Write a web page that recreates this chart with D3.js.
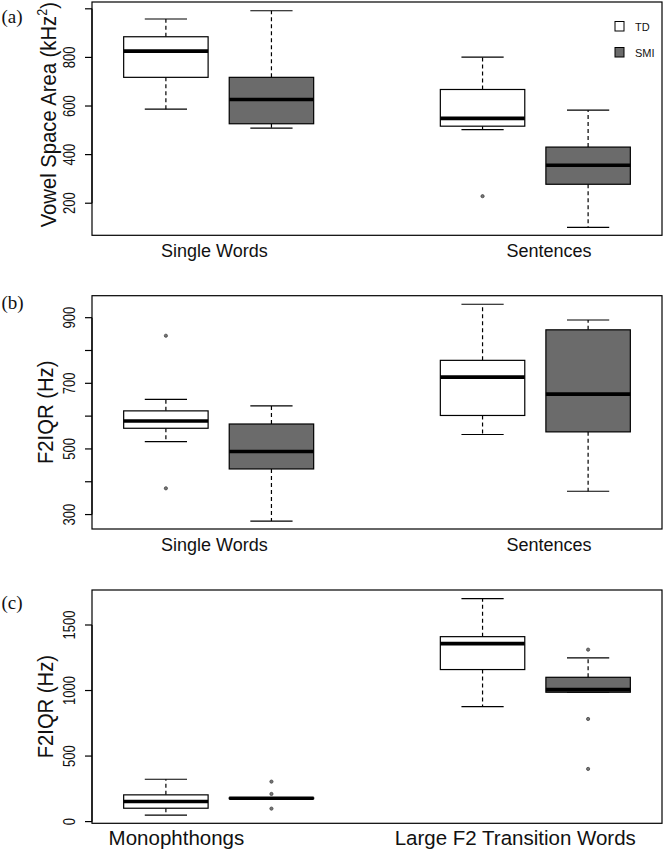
<!DOCTYPE html>
<html>
<head>
<meta charset="utf-8">
<script src="https://cdn.jsdelivr.net/npm/d3@7"></script>
<style>
  html, body { margin: 0; padding: 0; background: #fff; }
  svg { display: block; }
</style>
</head>
<body>
<svg id="chart" width="664" height="850"></svg>
<script>
// ---------------- DATA ----------------
const groups = ["TD", "SMI"];
const groupPositions = [1, 2, 4, 5];      // TD, SMI, TD, SMI

const catsA = ["Single Words", "Sentences"];
const catsB = ["Single Words", "Sentences"];
const catsC = ["Monophthongs", "Large F2 Transition Words"];

// each box: [lower whisker, Q1, median, Q3, upper whisker]
const statsA = [
  [587, 718, 826, 885, 958],
  [509, 527, 627, 718, 992],
  [503, 517, 549, 668, 801],
  [101, 278, 356, 431, 583]
];
const outliersA = [[], [], [229], []];

const statsB = [
  [522, 563, 585, 616, 651],
  [280, 439, 492, 576, 631],
  [544, 602, 719, 770, 941],
  [371, 552, 667, 863, 893]
];
const outliersB = [[845, 380], [], [], []];

const statsC = [
  [49, 102, 153, 204, 323],
  [175, 175, 178, 181, 181],
  [877, 1160, 1358, 1411, 1701],
  [987, 987, 1007, 1101, 1249]
];
const outliersC = [[], [305, 211, 99], [], [1312, 783, 402]];

const ticksA = [200, 400, 600, 800, 1000];
const tickLabelsA = ["200", "400", "600", "800", ""];
const ticksB = [300, 400, 500, 600, 700, 800, 900];
const tickLabelsB = ["300", "", "500", "", "700", "", "900"];
const ticksC = [0, 500, 1000, 1500];
const tickLabelsC = ["0", "500", "1000", "1500"];

const domainA = [68, 1028];
const domainB = [256, 967];
const domainC = [-13, 1767];

const titleA = "Vowel Space Area (kHz";
const titleB = "F2IQR (Hz)";
const titleC = "F2IQR (Hz)";
const panelTags = ["(a)", "(b)", "(c)"];

// ---------------- LAYOUT ----------------
const svg = d3.select("#chart");
const plotLeft = 92, plotRight = 662, plotH = 233.3;
const sans = "'Liberation Sans', Arial, Helvetica, sans-serif";
const serif = "'Liberation Serif', 'Times New Roman', serif";
const grayFill = "#6b6b6b";
const fills = ["#ffffff", grayFill, "#ffffff", grayFill];

const x = d3.scaleLinear().domain([0.3, 5.7]).range([plotLeft, plotRight]);
const boxW = x(1.4) - x(0.6);
const capW = boxW / 2;

const panels = [
  { tag: panelTags[0], top: 2, domain: domainA, ticks: ticksA, tickLabels: tickLabelsA,
    title: titleA, sup: true, titleBase: 56, titleShift: -4, cats: catsA, stats: statsA, outliers: outliersA,
    labelAt: [1.46, 4.63], catSize: 18, tagBase: 23, legend: true },
  { tag: panelTags[1], top: 295.7, domain: domainB, ticks: ticksB, tickLabels: tickLabelsB,
    title: titleB, sup: false, titleBase: 53, titleShift: 0, cats: catsB, stats: statsB, outliers: outliersB,
    labelAt: [1.46, 4.63], catSize: 18, tagBase: 309, legend: false },
  { tag: panelTags[2], top: 590, domain: domainC, ticks: ticksC, tickLabels: tickLabelsC,
    title: titleC, sup: false, titleBase: 53, titleShift: 0, cats: catsC, stats: statsC, outliers: outliersC,
    labelAt: [1.10, 4.31], catSize: 20.5, tagBase: 609, legend: false }
];

panels.forEach(p => {
  const y = d3.scaleLinear().domain(p.domain).range([p.top + plotH, p.top]);
  const g = svg.append("g");

  // boxes
  p.stats.forEach((s, i) => {
    const cx = x(groupPositions[i]);
    const [lo, q1, med, q3, hi] = s;
    const bg = g.append("g");
    // whiskers (dashed)
    bg.append("line").attr("x1", cx).attr("x2", cx).attr("y1", y(q3)).attr("y2", y(hi))
      .attr("stroke", "#000").attr("stroke-width", 1.2).attr("stroke-dasharray", "4,3");
    bg.append("line").attr("x1", cx).attr("x2", cx).attr("y1", y(q1)).attr("y2", y(lo))
      .attr("stroke", "#000").attr("stroke-width", 1.2).attr("stroke-dasharray", "4,3");
    // caps
    [lo, hi].forEach(v => {
      bg.append("line").attr("x1", cx - capW / 2).attr("x2", cx + capW / 2)
        .attr("y1", y(v)).attr("y2", y(v)).attr("stroke", "#000").attr("stroke-width", 1.2);
    });
    // box
    bg.append("rect").attr("x", cx - boxW / 2).attr("width", boxW)
      .attr("y", y(q3)).attr("height", Math.max(0.5, y(q1) - y(q3)))
      .attr("fill", fills[i]).attr("stroke", "#000").attr("stroke-width", 1.2);
    // median
    bg.append("line").attr("x1", cx - boxW / 2).attr("x2", cx + boxW / 2)
      .attr("y1", y(med)).attr("y2", y(med)).attr("stroke", "#000").attr("stroke-width", 3.6);
    // outliers
    p.outliers[i].forEach(v => {
      bg.append("circle").attr("cx", cx).attr("cy", y(v)).attr("r", 1.6)
        .attr("fill", "#777").attr("stroke", "#444").attr("stroke-width", 0.8);
    });
  });

  // plot frame
  g.append("rect").attr("x", plotLeft).attr("y", p.top)
    .attr("width", plotRight - plotLeft).attr("height", plotH)
    .attr("fill", "none").attr("stroke", "#000").attr("stroke-width", 1.2);

  // y axis (R style: ticks on the left, rotated labels)
  const ax = g.append("g");
  ax.append("line").attr("x1", plotLeft).attr("x2", plotLeft)
    .attr("y1", y(d3.min(p.ticks))).attr("y2", y(d3.max(p.ticks)))
    .attr("stroke", "#000").attr("stroke-width", 1.2);
  p.ticks.forEach((t, k) => {
    ax.append("line").attr("x1", plotLeft - 7).attr("x2", plotLeft)
      .attr("y1", y(t)).attr("y2", y(t)).attr("stroke", "#000").attr("stroke-width", 1.2);
    if (p.tickLabels[k]) {
      ax.append("text").attr("transform", `translate(75,${y(t)}) rotate(-90) scale(0.79,1)`)
        .attr("text-anchor", "middle").attr("font-family", sans).attr("font-size", 16.5)
        .attr("fill", "#111").text(p.tickLabels[k]);
    }
  });

  // y title
  const tt = g.append("text")
    .attr("transform", `translate(${p.titleBase},${p.top + plotH / 2 + p.titleShift}) rotate(-90) scale(0.9,1)`)
    .attr("text-anchor", "middle").attr("font-family", sans).attr("font-size", 22.5).attr("fill", "#111");
  if (p.sup) {
    tt.append("tspan").text(p.title);
    tt.append("tspan").attr("font-size", 14).attr("dy", -9).text("2");
    tt.append("tspan").attr("dy", 9).text(")");
  } else {
    tt.text(p.title);
  }

  // category labels
  p.cats.forEach((c, k) => {
    g.append("text").attr("x", x(p.labelAt[k])).attr("y", p.top + plotH + 21.5)
      .attr("text-anchor", "middle").attr("font-family", sans).attr("font-size", p.catSize)
      .attr("fill", "#111").text(c);
  });

  // panel tag
  g.append("text").attr("x", 1.5).attr("y", p.tagBase).attr("font-family", serif)
    .attr("font-size", 19).attr("fill", "#111").text(p.tag);

  // legend
  if (p.legend) {
    const lg = g.append("g");
    groups.forEach((gr, k) => {
      const ly = p.top + 19.5 + k * 26;
      lg.append("rect").attr("x", 615).attr("y", ly).attr("width", 9).attr("height", 9.5)
        .attr("fill", k === 0 ? "#fff" : grayFill).attr("stroke", "#000").attr("stroke-width", 1);
      lg.append("text").attr("x", 635).attr("y", ly + 9).attr("font-family", sans)
        .attr("font-size", 11).attr("fill", "#111").text(gr);
    });
  }
});
</script>
</body>
</html>
